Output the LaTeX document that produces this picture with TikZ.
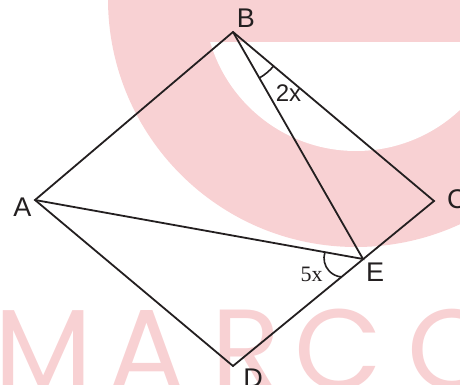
\documentclass[tikz,border=0pt]{standalone}
\usepackage{fontspec}
\setmainfont{Liberation Sans}
\newfontfamily\serifx{Liberation Serif}
\newfontfamily\wmfont{Poppins}
\usetikzlibrary{calc}
\definecolor{wmpink}{RGB}{248,209,211}
\definecolor{ink}{RGB}{35,31,32}
\begin{document}
\begin{tikzpicture}[x=1pt,y=1pt,
 edge/.style={draw=ink,line width=1.8pt},
 anglearc/.style={draw=ink,line width=1.6pt},
 lbl/.style={inner sep=0pt,text=ink,font=\fontsize{27}{27}\selectfont},
 anglab/.style={inner sep=0pt,text=ink,font=\fontsize{24}{24}\selectfont},
 seriflab/.style={inner sep=0pt,text=ink,font=\serifx\fontsize{22}{22}\selectfont},
 wm/.style={inner sep=0pt,anchor=base west,text=wmpink,font=\wmfont\fontsize{114}{114}\selectfont}]
\useasboundingbox (0,0) rectangle (460,385);
\clip (0,0) rectangle (460,385);
% watermark
\fill[wmpink] (356,386) circle[radius=248];
\begin{scope}
\clip (0,0) rectangle (460,342);
\fill[white] (356,386) circle[radius=152];
\end{scope}
\node[wm] (wM) at (-6,-5) {M};
\node[wm] (wA) at (108,-5) {A};
\node[wm] (wR) at (211,-5) {R};
\node[wm] (wC) at (294,-5) {C};
\node[wm] (wO) at (407,-5) {O};
% geometry
\coordinate (A) at (35,185);
\coordinate (B) at (233,353);
\coordinate (C) at (434,184);
\coordinate (D) at (233,19);
\coordinate (E) at (363,126);
\draw[edge] (A) -- (B) -- (C) -- (D) -- cycle;
\draw[edge] (B) -- (E) -- (A);
% angle arcs
\draw[anglearc] ($(B)+(-60.2:53)$) arc[start angle=-60.2, end angle=-40.1, radius=53];
\coordinate (Ec) at (343,127);
\draw[anglearc] ($(Ec)+(163:19)$) arc[start angle=163, end angle=265.5, radius=19];
% labels
\node[lbl] (lA) at (22.5,178) {A};
\node[lbl] (lB) at (246,367) {B};
\node[lbl,anchor=west] (lC) at (447,186) {C};
\node[lbl] (lD) at (253,7) {D};
\node[lbl] (lE) at (375,113) {E};
\node[anglab] (l2x) at (288.5,291.5) {2x};
\node[seriflab] (l5x) at (311.5,110.5) {5x};
\end{tikzpicture}
\end{document}
